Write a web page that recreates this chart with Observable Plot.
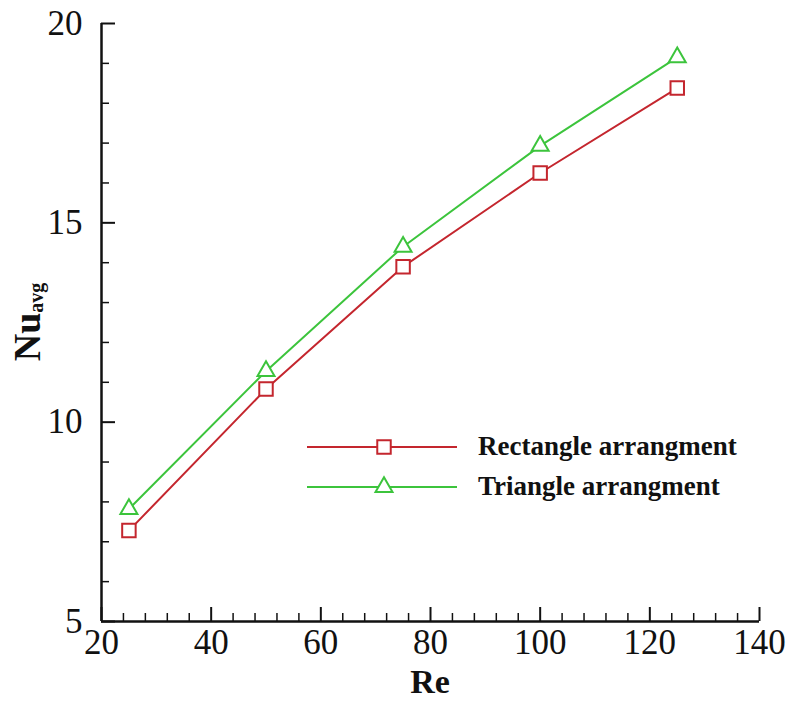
<!DOCTYPE html>
<html><head><meta charset="utf-8">
<script src="https://cdn.jsdelivr.net/npm/d3@7"></script>
<script src="https://cdn.jsdelivr.net/npm/@observablehq/plot@0.6"></script>
<style>body{margin:0;background:#fff} #chart{width:788px;height:702px}</style>
</head><body><div id="chart"></div>
<script>
const reynolds = [25, 50, 75, 100, 125];
const rectangleNu = [7.28, 10.83, 13.9, 16.25, 18.38];
const triangleNu = [7.82, 11.28, 14.4, 16.93, 19.15];
const seriesNames = ["Rectangle arrangment", "Triangle arrangment"];
const seriesColors = ["#c4262e", "#3cc43c"];
const xTicks = [20, 40, 60, 80, 100, 120, 140];
const xMinorTicks = [24, 28, 32, 36, 44, 48, 52, 56, 64, 68, 72, 76, 84, 88, 92, 96, 104, 108, 112, 116, 124, 128, 132, 136];
const yTicks = [5, 10, 15, 20];
const yMinorTicks = [6, 7, 8, 9, 11, 12, 13, 14, 16, 17, 18, 19];
const xLabel = "Re";
const yLabelMain = "Nu";
const yLabelSub = "avg";

const fontFamily = "Liberation Serif, Times New Roman, serif";
const rows = reynolds.flatMap((re, i) => [
  {re, nu: rectangleNu[i], s: seriesNames[0]},
  {re, nu: triangleNu[i], s: seriesNames[1]}
]);
const rectRows = rows.filter(d => d.s === seriesNames[0]);
const triRows = rows.filter(d => d.s === seriesNames[1]);
const squareR = 7.6, triR = 6.3;

const W = 788, H = 702, mL = 101, mR = 29, mT = 23, mB = 81;
const frameW = W - mL - mR, frameH = H - mT - mB;
const majorLen = 14, minorLen = 8;

const plot = Plot.plot({
  width: W, height: H,
  marginLeft: mL, marginRight: mR, marginTop: mT, marginBottom: mB,
  style: {fontFamily, fontSize: "35px", color: "#111", background: "#fff", overflow: "visible"},
  x: {domain: [20, 140]},
  y: {domain: [5, 20]},
  color: {domain: seriesNames, range: seriesColors},
  marks: [
    Plot.tickX(xMinorTicks, {x: d => d, insetTop: frameH - minorLen, stroke: "#111", strokeWidth: 1.5}),
    Plot.tickX(xTicks, {x: d => d, insetTop: frameH - majorLen, stroke: "#111", strokeWidth: 2}),
    Plot.tickY(yMinorTicks, {y: d => d, insetRight: frameW - minorLen, stroke: "#111", strokeWidth: 1.5}),
    Plot.tickY(yTicks, {y: d => d, insetRight: frameW - majorLen, stroke: "#111", strokeWidth: 2}),
    Plot.axisX(xTicks, {tickSize: 0, tickPadding: 8, label: null, fontSize: 35, fontFamily, fill: "#111"}),
    Plot.axisY(yTicks, {tickSize: 0, tickPadding: 19, label: null, fontSize: 35, fontFamily, fill: "#111"}),
    Plot.ruleX([20], {stroke: "#111", strokeWidth: 2.5}),
    Plot.ruleY([5], {stroke: "#111", strokeWidth: 2.5}),
    Plot.line(rows, {x: "re", y: "nu", stroke: "s", z: "s", strokeWidth: 2}),
    Plot.dot(rectRows, {x: "re", y: "nu", stroke: "s", symbol: "square", r: squareR, fill: "white", strokeWidth: 2}),
    Plot.dot(triRows, {x: "re", y: "nu", stroke: "s", symbol: "triangle", r: triR, fill: "white", strokeWidth: 2})
  ]
});
document.getElementById("chart").append(plot);

const svg = d3.select(plot);
// x label
svg.append("text").attr("x", 430).attr("y", 693).attr("text-anchor", "middle")
  .attr("font-family", fontFamily).attr("font-weight", "bold").attr("font-size", 34).attr("fill", "#111")
  .text(xLabel);
// y label with subscript
const yl = svg.append("text").attr("transform", "translate(40,322) rotate(-90)").attr("text-anchor", "middle")
  .attr("font-family", fontFamily).attr("font-weight", "bold").attr("fill", "#111");
yl.append("tspan").attr("font-size", 38).text(yLabelMain);
yl.append("tspan").attr("font-size", 20).attr("dy", 3).text(yLabelSub);

// legend
const legend = svg.append("g").attr("font-family", fontFamily).attr("text-anchor", "start");
const legendSymbols = [d3.symbolSquare, d3.symbolTriangle];
const legendR = [squareR, triR];
seriesNames.forEach((name, i) => {
  const y = 447 + i * 40;
  legend.append("line").attr("x1", 307).attr("x2", 457).attr("y1", y).attr("y2", y)
    .attr("stroke", seriesColors[i]).attr("stroke-width", 2);
  legend.append("path").attr("transform", `translate(384,${y})`)
    .attr("d", d3.symbol(legendSymbols[i], legendR[i] * legendR[i] * Math.PI)())
    .attr("fill", "white").attr("stroke", seriesColors[i]).attr("stroke-width", 2);
  legend.append("text").attr("x", 478).attr("y", y + 8).attr("font-size", 27).attr("font-weight", "bold")
    .attr("text-anchor", "start").attr("fill", "#111").text(name);
});
</script></body></html>
